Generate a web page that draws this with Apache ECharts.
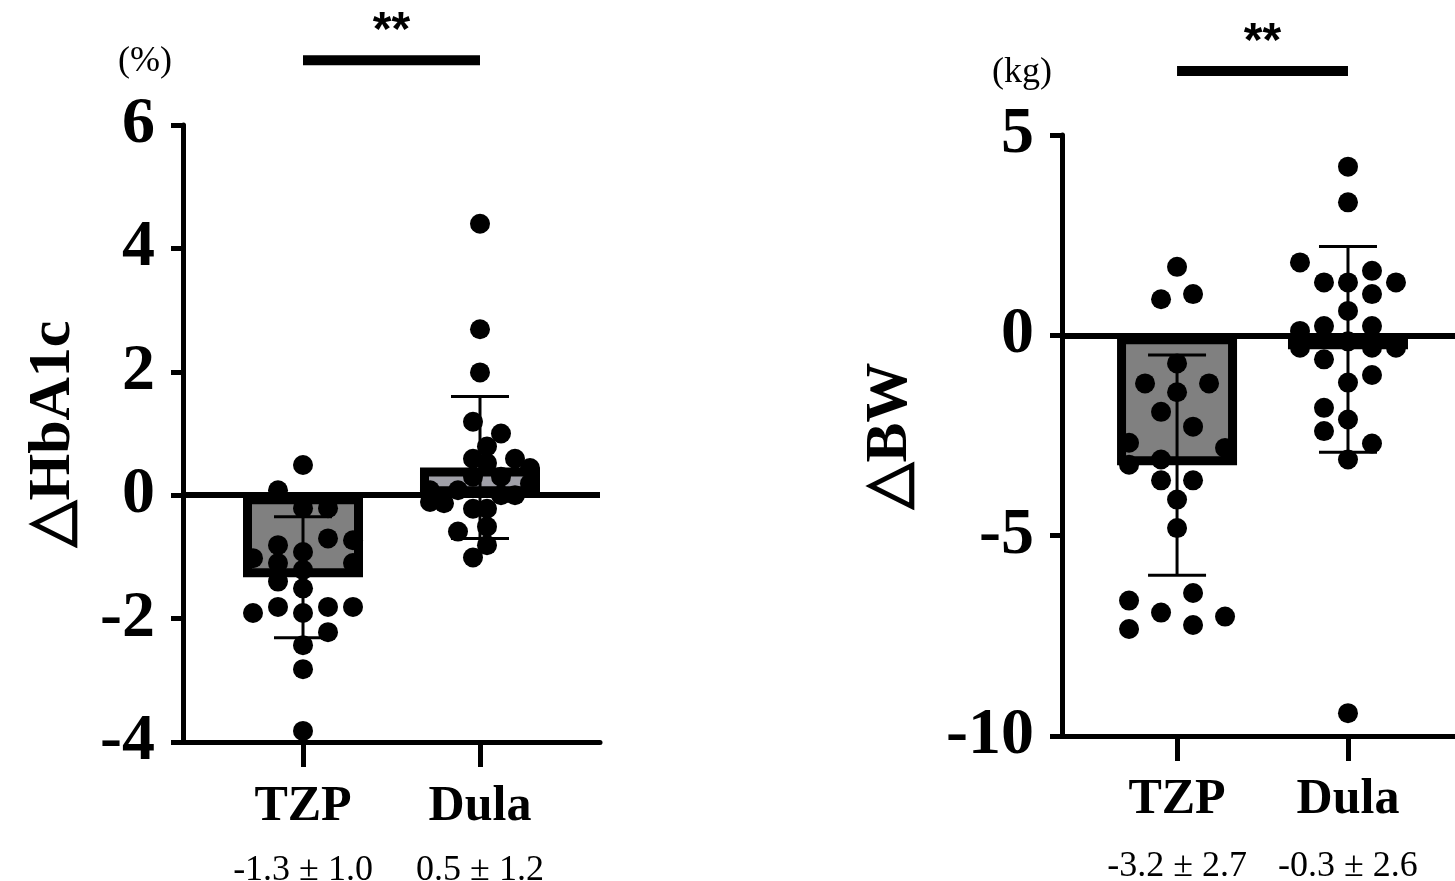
<!DOCTYPE html>
<html><head><meta charset="utf-8">
<script src="https://cdn.jsdelivr.net/npm/echarts@6/dist/echarts.min.js"></script>
<style>html,body{margin:0;padding:0;background:#fff}#c{width:1455px;height:881px}</style>
</head><body><div id="c"></div>
<script>
// ---------- data ----------
const categories = ['TZP', 'Dula'];
const hbStatLabels = ['-1.3 ± 1.0', '0.5 ± 1.2'];
const bwStatLabels = ['-3.2 ± 2.7', '-0.3 ± 2.6'];
const hbMean = [-1.33, 0.45];
const hbSD = [0.98, 1.15];
const bwMean = [-3.24, -0.35];
const bwSD = [2.75, 2.57];
const hbSig = 7.05;   // significance bar level (%)
const bwSig = 6.6;    // significance bar level (kg)
const sigText = '**';

const hbTZP = [0.49, 0.08, -0.21, -0.21, -0.70, -0.73, -0.81, -0.92, -1.02, -1.10, -1.10, -1.21, -1.40, -1.51, -1.91, -1.81, -1.91, -1.81, -1.81, -2.22, -2.43, -2.82, -3.82];
const hbDula = [4.40, 2.69, 1.99, 1.19, 1.00, 0.79, 0.59, 0.59, 0.52, 0.44, 0.30, 0.30, 0.19, 0.08, 0.08, -0.11, -0.13, 0.00, 0.00, -0.22, -0.22, -0.51, -0.59, -0.81, -1.01];
const bwTZP = [1.71, 0.90, 1.03, -0.70, -1.20, -1.20, -1.42, -1.91, -2.28, -2.68, -2.81, -3.10, -3.23, -3.62, -3.62, -4.10, -4.81, -6.43, -6.62, -6.92, -7.02, -7.33, -7.23];
const bwDula = [4.21, 3.32, 1.82, 1.61, 1.32, 1.32, 1.32, 1.03, 0.61, 0.11, 0.23, 0.23, -0.31, -0.60, -0.31, -0.31, -0.15, -1.18, -0.99, -1.81, -2.10, -2.39, -2.70, -3.10, -9.43];

// ---------- beeswarm layout (horizontal offsets in px, per point) ----------
const hbTZPdx = [0, -25, 0, 25, 25, 50, -25, 0, -50, 50, -25, 0, -25, 0, -50, -25, 0, 25, 50, 25, 0, 0, 0];
const hbDuladx = [0, 0, 0, -7, 21, 7, -7, 35, 7, 50, -7, 21, 50, -22, -50, -50, -36, 21, 35, -7, 7, 7, -22, 7, -7];
const bwTZPdx = [0, -16, 16, 0, -32, 32, 0, -16, 16, -48, 48, -16, -48, -16, 16, 0, 0, 16, -48, -16, 48, -48, 16];
const bwDuladx = [0, 0, -48, 24, -24, 0, 48, 24, 0, -48, -24, 24, -48, -24, 24, 48, 0, 0, 24, -24, 0, -24, 24, 0, 0];

// ---------- styles ----------
const SERIF = '"Liberation Serif", "Times New Roman", serif';
const barFills = ['#808080', '#a0a0a8'];

function scatterData(vals, dxs, cat) {
  return vals.map((v, i) => ({ value: [cat, v], symbolOffset: [dxs[i], 0] }));
}
function barData(means) {
  return means.map((m, i) => ({ value: [i, m], itemStyle: { color: barFills[i] } }));
}
function errData(means, sds) {
  return means.map((m, i) => [i, m, sds[i]]);
}
function errRender(params, api) {
  const x = api.value(0), m = api.value(1), s = api.value(2);
  const t = api.coord([x, m + s]), b = api.coord([x, m - s]);
  const hw = 29, st = { stroke: '#000', lineWidth: 3 };
  return { type: 'group', children: [
    { type: 'line', shape: { x1: t[0], y1: t[1], x2: b[0], y2: b[1] }, style: st },
    { type: 'line', shape: { x1: t[0] - hw, y1: t[1], x2: t[0] + hw, y2: t[1] }, style: st },
    { type: 'line', shape: { x1: b[0] - hw, y1: b[1], x2: b[0] + hw, y2: b[1] }, style: st }
  ]};
}
function sigRender(params, api) {
  const p0 = api.coord([api.value(0), api.value(2)]);
  const p1 = api.coord([api.value(1), api.value(2)]);
  return { type: 'group', children: [
    { type: 'rect', shape: { x: p0[0], y: p0[1] - 5, width: p1[0] - p0[0], height: 10 }, style: { fill: '#000' } },
    { type: 'text', x: (p0[0] + p1[0]) / 2, y: p0[1] - 4,
      style: { text: sigText, textAlign: 'center', textVerticalAlign: 'bottom', fill: '#000',
               font: 'bold 48px "Liberation Sans", Arial, sans-serif' } }
  ]};
}

function xAxisFor(gridIndex, min, max, stats, labelMargin, statLH) {
  return {
    type: 'value', gridIndex, min, max,
    axisLine: { show: true, onZero: false, lineStyle: { color: '#000', width: 5 } },
    axisTick: { show: true, customValues: [0, 1], length: 25, lineStyle: { color: '#000', width: 5 } },
    splitLine: { show: false },
    axisLabel: {
      customValues: [0, 1], margin: labelMargin,
      formatter: v => '{a|' + categories[Math.round(v)] + '}\n{b|' + stats[Math.round(v)] + '}',
      rich: {
        a: { fontFamily: SERIF, fontWeight: 'bold', fontSize: 50, lineHeight: 50, color: '#000' },
        b: { fontFamily: SERIF, fontSize: 36, lineHeight: statLH, color: '#000' }
      }
    }
  };
}
function yAxisFor(gridIndex, min, max, interval, name, nameGap) {
  return {
    type: 'value', gridIndex, min, max, interval,
    name, nameLocation: 'middle', nameRotate: 90, nameGap,
    nameTextStyle: { fontFamily: SERIF, fontWeight: 'bold', fontSize: 60, color: '#000' },
    axisLine: { show: true, onZero: false, lineStyle: { color: '#000', width: 5 } },
    axisTick: { show: true, length: 12, lineStyle: { color: '#000', width: 5 } },
    splitLine: { show: false },
    axisLabel: { fontFamily: SERIF, fontWeight: 'bold', fontSize: 66, color: '#000', margin: 28 }
  };
}

function panelSeries(idx, means, sds, dots, sigY) {
  return [
    { type: 'bar', xAxisIndex: idx, yAxisIndex: idx, barWidth: 120, z: 2,
      itemStyle: { borderColor: '#000', borderWidth: 9, opacity: 1 },
      data: barData(means),
      markLine: { silent: true, symbol: 'none', label: { show: false },
        lineStyle: { color: '#000', width: 6, type: 'solid', opacity: 1 }, data: [{ yAxis: 0 }] } },
    { type: 'custom', xAxisIndex: idx, yAxisIndex: idx, z: 3, renderItem: errRender,
      data: errData(means, sds) },
    { type: 'scatter', xAxisIndex: idx, yAxisIndex: idx, z: 4, symbolSize: 20,
      itemStyle: { color: '#000', opacity: 1 }, data: dots },
    { type: 'custom', xAxisIndex: idx, yAxisIndex: idx, z: 4, clip: false, renderItem: sigRender,
      encode: { x: [0, 1], y: 2 }, data: [[0, 1, sigY]] }
  ];
}

const chart = echarts.init(document.getElementById('c'), null, { renderer: 'canvas' });
chart.setOption({
  backgroundColor: '#fff',
  animation: false,
  grid: [
    { left: 183, top: 125, width: 417, height: 617, containLabel: false, outerBoundsMode: 'none' },
    { left: 1062, top: 135, width: 393, height: 601, containLabel: false, outerBoundsMode: 'none' }
  ],
  xAxis: [
    xAxisFor(0, -0.678, 1.678, hbStatLabels, 40, 78),
    xAxisFor(1, -0.673, 1.626, bwStatLabels, 39, 84)
  ],
  yAxis: [
    yAxisFor(0, -4, 6, 2, '△HbA1c', 100),
    yAxisFor(1, -10, 5, 5, '△BW', 142)
  ],
  graphic: [
    { type: 'text', x: 145, y: 62, style: { text: '(%)', textAlign: 'center', textVerticalAlign: 'middle', font: '36px ' + SERIF, fill: '#000' } },
    { type: 'text', x: 1022, y: 73, style: { text: '(kg)', textAlign: 'center', textVerticalAlign: 'middle', font: '36px ' + SERIF, fill: '#000' } }
  ],
  series: [
    ...panelSeries(0, hbMean, hbSD, scatterData(hbTZP, hbTZPdx, 0).concat(scatterData(hbDula, hbDuladx, 1)), hbSig),
    ...panelSeries(1, bwMean, bwSD, scatterData(bwTZP, bwTZPdx, 0).concat(scatterData(bwDula, bwDuladx, 1)), bwSig)
  ]
});
</script></body></html>
